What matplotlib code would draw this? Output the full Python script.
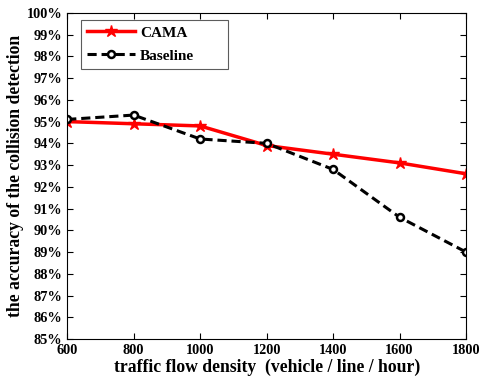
import matplotlib.pyplot as plt
from matplotlib.ticker import FuncFormatter

density = [600, 800, 1000, 1200, 1400, 1600, 1800]
cama = [95.0, 94.9, 94.8, 93.9, 93.5, 93.1, 92.6]
baseline = [95.1, 95.3, 94.2, 94.0, 92.8, 90.6, 89.0]

plt.rcParams['font.family'] = 'Liberation Serif'
plt.rcParams['font.weight'] = 'bold'

fig = plt.figure(figsize=(4.8, 3.78), dpi=100)
ax = fig.add_axes([0.14, 0.103, 0.831, 0.863])

ax.plot(density, cama, color='red', lw=2.5, marker='*', ms=9, mec='red', mfc='red', label='CAMA')
ax.plot(density, baseline, color='black', lw=2.2, ls=(0, (3, 1.6)), marker='o', ms=5,
        mec='black', mfc='white', mew=1.8, label='Baseline')

ax.set_xlim(600, 1800)
ax.set_ylim(85, 100)
ax.set_xticks(density)
ax.set_yticks(range(85, 101))
ax.yaxis.set_major_formatter(FuncFormatter(lambda v, p: f'{v:.0f}%'))
ax.tick_params(direction='in', top=True, right=True, labelsize=10.3, length=4, width=0.8)
for lab in ax.get_xticklabels() + ax.get_yticklabels():
    lab.set_fontweight('bold')

ax.set_xlabel('traffic flow density  (vehicle / line / hour)', fontsize=12.7, fontweight='bold', labelpad=1)
ax.set_ylabel('the accuracy of the collision detection', fontsize=12.7, fontweight='bold', labelpad=2)

leg = ax.legend(loc='upper left', bbox_to_anchor=(0.035, 0.5, 0.368, 0.4785), mode='expand',
                borderaxespad=0, fontsize=11, fancybox=False, edgecolor='#333333',
                handlelength=3.1, handletextpad=0.35, labelspacing=0.6)
leg.get_frame().set_linewidth(0.8)
for t in leg.get_texts():
    t.set_fontweight('bold')

fig.savefig('out.png', dpi=100)
